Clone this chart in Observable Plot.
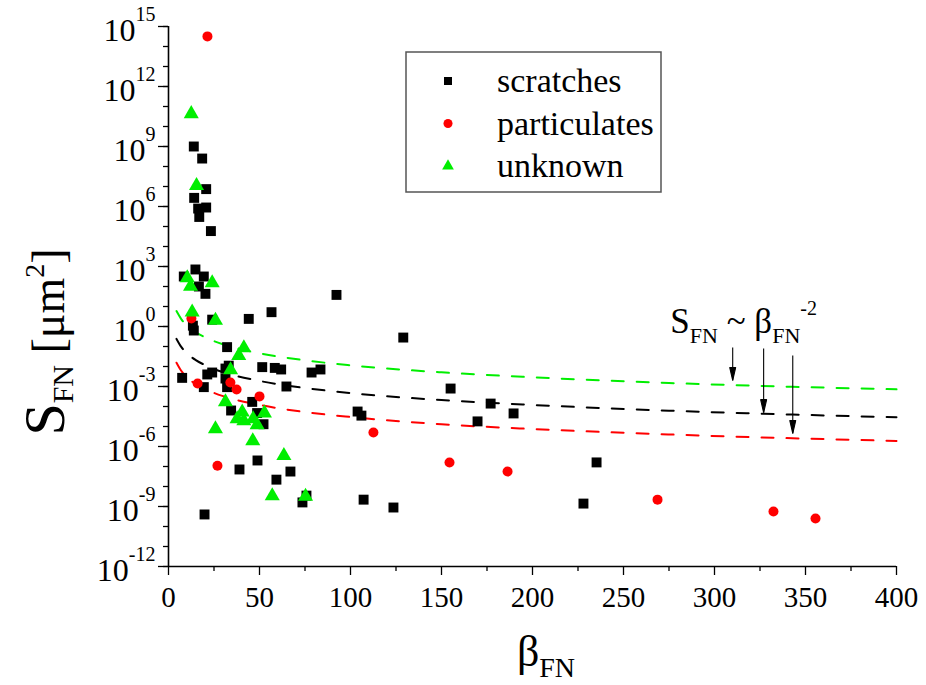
<!DOCTYPE html>
<html>
<head>
<meta charset="utf-8">
<script src="https://cdn.jsdelivr.net/npm/d3@7"></script>
<script src="https://cdn.jsdelivr.net/npm/@observablehq/plot@0.6"></script>
<style>
  body { margin: 0; background: #fff; }
  #chart { position: relative; width: 926px; height: 685px; }
</style>
</head>
<body>
<div id="chart"></div>
<script>
// Scratches
const scratchBeta = [13.9, 18.5, 20.7, 14.1, 16.3, 20.7, 16.9, 23.3, 14.8, 19.4, 8.4, 16.7, 20.3, 13.4, 13.9, 24.0, 44.1, 56.6, 92.3, 129.0,
  32.2, 7.5, 21.3, 24.0, 19.4, 31.3, 33.1, 31.3, 32.2, 51.5, 58.4, 61.9, 64.8, 78.6, 83.5, 155.0, 103.9, 106.0, 34.4, 46.0,
  48.7, 52.2, 169.8, 177.0, 189.6, 48.9, 39.0, 59.3, 67.0, 73.6, 75.8, 19.8, 107.2, 123.6, 235.2, 228.0];
const scratchS = [1.0e9, 2.5e8, 7.4e6, 2.7e6, 7.9e5, 8.9e5, 3.0e5, 5.9e4, 710, 316, 316, 100, 43, 1.1, 0.63, 2.2, 2.4, 5.2, 38, 0.28,
  0.093, 2.7e-3, 4.0e-3, 5.0e-3, 9.3e-4, 7.9e-3, 1.1e-2, 2.5e-3, 9.3e-4, 9.3e-3, 8.5e-3, 7.1e-3, 1.0e-3, 5.0e-3, 7.1e-3, 7.9e-4, 5.6e-5, 3.5e-5, 6.3e-5, 1.7e-4,
  4.7e-5, 1.3e-5, 1.8e-5, 1.4e-4, 4.5e-5, 2.0e-7, 7.1e-8, 2.2e-8, 5.6e-8, 1.6e-9, 3.5e-9, 4.0e-10, 2.2e-9, 8.9e-10, 1.6e-7, 1.4e-9];

// Particulates
const particleBeta = [21.4, 12.6, 16.0, 34.0, 37.4, 50.0, 26.9, 112.6, 154.4, 186.3, 268.7, 332.4, 355.5];
const particleS = [3.2e14, 2.5, 1.4e-3, 1.6e-3, 7.1e-4, 3.2e-4, 1.1e-7, 5.0e-6, 1.6e-7, 5.6e-8, 2.2e-9, 5.6e-10, 2.5e-10];

// Unknown origin
const unknownBeta = [12.5, 15.4, 10.3, 12.1, 24.0, 13.0, 25.8, 41.4, 38.6, 34.1, 31.3, 40.5, 37.7, 41.4, 46.5, 48.7, 52.7, 25.8, 46.3, 63.4, 57.0, 75.3];
const unknownS = [4.3e10, 1.1e7, 270, 100, 150, 5.2, 2.0, 0.085, 0.035, 6.8e-3, 1.7e-4, 5.2e-5, 2.4e-5, 1.9e-5, 2.4e-5, 1.2e-5, 4.7e-5, 7.6e-6, 1.9e-6, 3.5e-7, 3.4e-9, 3.2e-9];

// S ~ beta^-2 guide curves, sampled along beta
const fitBeta = [4.4, 7, 10, 15, 20, 30, 50, 75, 100, 150, 200, 275, 400];
const fitUnknown = [5.9, 2.35, 1.15, 0.51, 0.29, 0.128, 0.046, 0.0204, 0.0115, 0.0051, 0.0029, 0.0015, 0.00072];
const fitScratch = [0.24, 0.096, 0.047, 0.021, 0.0118, 0.0052, 0.0019, 8.4e-4, 4.7e-4, 2.1e-4, 1.2e-4, 6.2e-5, 2.9e-5];
const fitParticle = [0.0155, 0.0061, 0.003, 0.0013, 7.5e-4, 3.3e-4, 1.2e-4, 5.3e-5, 3.0e-5, 1.3e-5, 7.5e-6, 4.0e-6, 1.9e-6];

// Arrows pointing at the three curves
const arrowBeta = [310, 327, 343];
const arrowFrom = [0.089, 0.079, 0.035];
const arrowTo = [0.002, 5e-5, 4.5e-6];

// Axis ticks
const xMajor = [0, 50, 100, 150, 200, 250, 300, 350, 400];
const xMinor = [25, 75, 125, 175, 225, 275, 325, 375];
const yExpMajor = [-12, -9, -6, -3, 0, 3, 6, 9, 12, 15];
const yExpAll = d3.range(-12, 16);

const seriesNames = ["scratches", "particulates", "unknown"];

const GREEN = "#00ee00", RED = "#ff0000", BLACK = "#000000";

const pts = (bs, ss) => bs.map((b, i) => ({beta: b, S: ss[i]}));
const scratches = pts(scratchBeta, scratchS);
const particles = pts(particleBeta, particleS);
const unknown = pts(unknownBeta, unknownS);
const fitU = pts(fitBeta, fitUnknown);
const fitS = pts(fitBeta, fitScratch);
const fitP = pts(fitBeta, fitParticle);
const arrows = arrowBeta.map((b, i) => ({beta: b, y1: arrowFrom[i], y2: arrowTo[i]}));

function arrowHead(color, context) {
  const doc = (context && context.document) || document;
  const ns = "http://www.w3.org/2000/svg";
  const m = doc.createElementNS(ns, "marker");
  m.setAttribute("viewBox", "-13 -4 13 8");
  m.setAttribute("markerWidth", 13);
  m.setAttribute("markerHeight", 8);
  m.setAttribute("markerUnits", "userSpaceOnUse");
  m.setAttribute("orient", "auto");
  m.setAttribute("overflow", "visible");
  const p = doc.createElementNS(ns, "path");
  p.setAttribute("d", "M-13,-3L0,0L-13,3Z");
  p.setAttribute("fill", color);
  m.appendChild(p);
  return m;
}

const dash = "12,13";
const plot = Plot.plot({
  width: 926,
  height: 685,
  marginLeft: 168,
  marginRight: 30,
  marginTop: 26,
  marginBottom: 119,
  style: {fontFamily: "'Liberation Serif', 'Times New Roman', serif", fontSize: "29px", color: "#000", background: "#fff"},
  x: {domain: [0, 400]},
  y: {type: "log", domain: [1e-12, 1e15]},
  marks: [
    Plot.line(fitU, {x: "beta", y: "S", stroke: GREEN, strokeWidth: 2, strokeDasharray: dash, curve: "monotone-x"}),
    Plot.line(fitS, {x: "beta", y: "S", stroke: BLACK, strokeWidth: 2, strokeDasharray: dash, curve: "monotone-x"}),
    Plot.line(fitP, {x: "beta", y: "S", stroke: RED, strokeWidth: 2, strokeDasharray: dash, curve: "monotone-x"}),
    Plot.dot(scratches, {x: "beta", y: "S", symbol: "square", r: 5.6, fill: BLACK}),
    Plot.dot(particles, {x: "beta", y: "S", symbol: "circle", r: 5, fill: RED}),
    Plot.dot(unknown, {x: "beta", y: "S", symbol: "triangle", r: 5.6, fill: GREEN}),
    Plot.link(arrows, {x1: "beta", x2: "beta", y1: "y1", y2: "y2", stroke: BLACK, strokeWidth: 1.1, markerEnd: arrowHead}),
    Plot.axisX({ticks: xMajor, tickSize: 9, tickPadding: 11, tickFormat: d => String(d), label: null, strokeWidth: 1.3}),
    Plot.axisX({ticks: xMinor, tickSize: 5, tickFormat: () => "", label: null, strokeWidth: 1.3}),
    Plot.axisY({ticks: yExpMajor.map(e => Math.pow(10, e)), tickSize: 10, tickPadding: 3, fontSize: 32,
      tickFormat: d => "10^" + Math.round(Math.log10(d)), label: null, strokeWidth: 1.3}),
    Plot.axisY({ticks: yExpAll.map(e => Math.pow(10, e)), tickSize: 5, tickFormat: () => "", label: null, strokeWidth: 1.3}),
    Plot.ruleX([0], {stroke: BLACK, strokeWidth: 1.6}),
    Plot.ruleY([1e-12], {stroke: BLACK, strokeWidth: 1.6})
  ]
});

const ns = "http://www.w3.org/2000/svg";
const svg = d3.select(plot);

// Power-of-ten tick labels with raised exponents
svg.selectAll('g[aria-label="y-axis tick label"] text').each(function () {
  const m = /^10\^(-?\d+)$/.exec(this.textContent);
  if (!m) return;
  this.textContent = "10";
  this.setAttribute("dy", "4");
  const sup = document.createElementNS(ns, "tspan");
  sup.setAttribute("dy", "-20");
  sup.setAttribute("font-size", "20px");
  sup.textContent = m[1];
  this.appendChild(sup);
});

const xs = plot.scale("x");
const serif = "'Liberation Serif', 'Times New Roman', serif";

function richText(parent, x, y, parts, opts = {}) {
  const t = parent.append("text")
    .attr("x", x).attr("y", y)
    .attr("font-family", serif)
    .attr("fill", "#000")
    .attr("text-anchor", opts.anchor || "start");
  if (opts.transform) t.attr("transform", opts.transform);
  for (const [s, size, dy] of parts) {
    t.append("tspan").attr("font-size", size + "px").attr("dy", dy).text(s);
  }
  return t;
}

// Axis titles
richText(svg, 0, 0, [["S", 58, 0], ["FN", 30, 9], [" [μm", 46, -9], ["2", 28, -20], ["]", 46, 20]],
  {anchor: "middle", transform: "translate(64,342) rotate(-90)"});
richText(svg, 546, 666, [["β", 44, 0], ["FN", 28, 11]], {anchor: "middle"});

// Guide annotation
richText(svg, xs.apply(276), 333, [["S", 35, 0], ["FN", 22, 10], [" ~ ", 35, -10], ["β", 35, 0], ["FN", 22, 10], ["-2", 20, -28]]);

// Legend
const lg = svg.append("g");
lg.append("rect").attr("x", 406).attr("y", 52).attr("width", 255).attr("height", 140)
  .attr("fill", "#fff").attr("stroke", "#555").attr("stroke-width", 1.5);
const legendSymbols = [d3.symbolSquare, d3.symbolCircle, d3.symbolTriangle];
const legendColors = [BLACK, RED, GREEN];
const legendSizes = [64, 64, 60];
seriesNames.forEach((name, i) => {
  const cy = 81 + i * 42.5;
  lg.append("path").attr("transform", `translate(448,${cy})`)
    .attr("d", d3.symbol(legendSymbols[i], legendSizes[i])()).attr("fill", legendColors[i]);
  lg.append("text").attr("x", 497).attr("y", cy + 11).attr("font-family", serif)
    .attr("text-anchor", "start")
    .attr("font-size", "34px").attr("fill", "#000").text(name);
});

document.getElementById("chart").appendChild(plot);
</script>
</body>
</html>
